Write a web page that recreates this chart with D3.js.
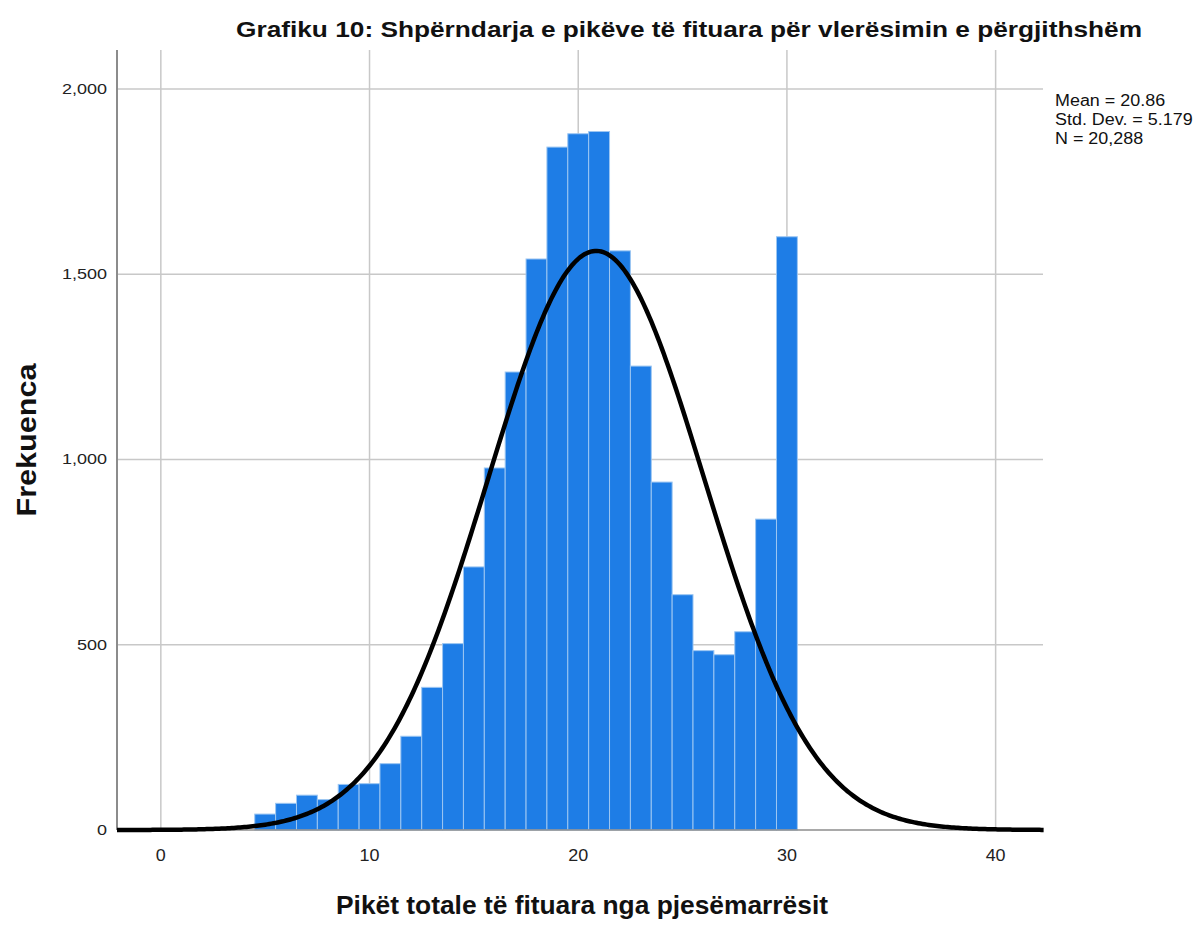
<!DOCTYPE html>
<html>
<head>
<meta charset="utf-8">
<script src="https://cdn.jsdelivr.net/npm/d3@7"></script>
<style>
  body { margin: 0; background: #fff; }
  svg { display: block; font-family: "Liberation Sans", Arial, sans-serif; }
</style>
</head>
<body>
<svg id="chart"></svg>
<script>
// --- data ---
const scores = [5, 6, 7, 8, 9, 10, 11, 12, 13, 14, 15, 16, 17, 18, 19, 20, 21, 22, 23, 24, 25, 26, 27, 28, 29, 30];
const counts = [43, 72, 94, 82, 123, 125, 179, 253, 385, 503, 710, 977, 1236, 1541, 1843, 1879, 1885, 1563, 1252, 939, 635, 484, 473, 535, 839, 1601];
const xTicks = [0, 10, 20, 30, 40];
const yTicks = [0, 500, 1000, 1500, 2000];
const mean = 20.86;
const stdDev = 5.179;
const total = 20288;
const statLines = ["Mean = 20.86", "Std. Dev. = 5.179", "N = 20,288"];

const width = 1195;
const height = 925;
const margin = { top: 50, right: 152, bottom: 95, left: 117 };

const svg = d3.select("#chart").attr("width", width).attr("height", height);

const x = d3.scaleLinear().domain([-2.1, 42.27]).range([margin.left, width - margin.right]);
const y = d3.scaleLinear().domain([0, 2105]).range([height - margin.bottom, margin.top]);

// the reference lettering is wider than Liberation Sans, so stretch it a bit
const stretch = (sel, k) => sel.each(function () {
  const len = this.getComputedTextLength();
  d3.select(this).attr("textLength", len * k).attr("lengthAdjust", "spacingAndGlyphs");
});

const plot = svg.append("g");

// --- grid ---
plot.selectAll("line.vgrid")
  .data(xTicks)
  .join("line")
  .attr("class", "vgrid")
  .attr("x1", (d) => x(d)).attr("x2", (d) => x(d))
  .attr("y1", y.range()[1]).attr("y2", y.range()[0])
  .attr("stroke", "#c8c8c8").attr("stroke-width", 1.5);

plot.selectAll("line.hgrid")
  .data(yTicks.filter((d) => d > 0))
  .join("line")
  .attr("class", "hgrid")
  .attr("x1", x.range()[0]).attr("x2", x.range()[1])
  .attr("y1", (d) => y(d)).attr("y2", (d) => y(d))
  .attr("stroke", "#c8c8c8").attr("stroke-width", 1.5);

// --- bars ---
plot.selectAll("rect.bar")
  .data(scores)
  .join("rect")
  .attr("class", "bar")
  .attr("x", (d) => x(d - 0.5))
  .attr("width", (d) => x(d + 0.5) - x(d - 0.5))
  .attr("y", (d, i) => y(counts[i]))
  .attr("height", (d, i) => y(0) - y(counts[i]))
  .attr("fill", "#1e7de6")
  .attr("stroke", "#9cc6f2")
  .attr("stroke-width", 1);

// --- axes lines ---
plot.append("line")
  .attr("x1", x.range()[0]).attr("x2", x.range()[0])
  .attr("y1", y.range()[1]).attr("y2", y.range()[0])
  .attr("stroke", "#8c8c8c").attr("stroke-width", 2);

plot.append("line")
  .attr("x1", x.range()[0]).attr("x2", x.range()[1])
  .attr("y1", y(0)).attr("y2", y(0))
  .attr("stroke", "#8c8c8c").attr("stroke-width", 1.5);

// --- normal curve from Mean / Std. Dev. / N ---
const pdf = (v) => (total / (stdDev * Math.sqrt(2 * Math.PI))) * Math.exp(-0.5 * ((v - mean) / stdDev) ** 2);
const curveXs = d3.range(x.domain()[0], x.domain()[1] + 0.05, 0.1);
plot.append("path")
  .datum(curveXs)
  .attr("d", d3.line().x((d) => x(d)).y((d) => y(pdf(d))))
  .attr("fill", "none")
  .attr("stroke", "#000")
  .attr("stroke-width", 4.5);

// --- tick labels ---
svg.selectAll("text.ytick")
  .data(yTicks)
  .join("text")
  .attr("class", "ytick")
  .attr("x", 107)
  .attr("y", (d) => y(d) + 5)
  .attr("text-anchor", "end")
  .style("font-size", "15px")
  .style("fill", "#222")
  .text((d) => d3.format(",")(d))
  .call(stretch, 1.2);

svg.selectAll("text.xtick")
  .data(xTicks)
  .join("text")
  .attr("class", "xtick")
  .attr("x", (d) => x(d))
  .attr("y", 861)
  .attr("text-anchor", "middle")
  .style("font-size", "16px")
  .style("fill", "#222")
  .text((d) => d)
  .call(stretch, 1.12);

// --- titles ---
svg.append("text")
  .attr("x", 689)
  .attr("y", 37)
  .attr("text-anchor", "middle")
  .attr("textLength", 906)
  .attr("lengthAdjust", "spacingAndGlyphs")
  .style("font-size", "22px")
  .style("font-weight", "bold")
  .style("fill", "#111")
  .text("Grafiku 10: Shpërndarja e pikëve të fituara për vlerësimin e përgjithshëm");

svg.append("text")
  .attr("transform", `translate(36,${440}) rotate(-90)`)
  .attr("text-anchor", "middle")
  .attr("textLength", 153)
  .attr("lengthAdjust", "spacingAndGlyphs")
  .style("font-size", "28px")
  .style("font-weight", "bold")
  .style("fill", "#111")
  .text("Frekuenca");

svg.append("text")
  .attr("x", 582)
  .attr("y", 914)
  .attr("text-anchor", "middle")
  .attr("textLength", 492)
  .attr("lengthAdjust", "spacingAndGlyphs")
  .style("font-size", "26px")
  .style("font-weight", "bold")
  .style("fill", "#111")
  .text("Pikët totale të fituara nga pjesëmarrësit");

// --- stats box ---
svg.selectAll("text.stat")
  .data(statLines)
  .join("text")
  .attr("class", "stat")
  .attr("x", 1055)
  .attr("y", (d, i) => 106 + i * 19)
  .style("font-size", "16px")
  .style("fill", "#111")
  .text((d) => d)
  .call(stretch, 1.12);
</script>
</body>
</html>
